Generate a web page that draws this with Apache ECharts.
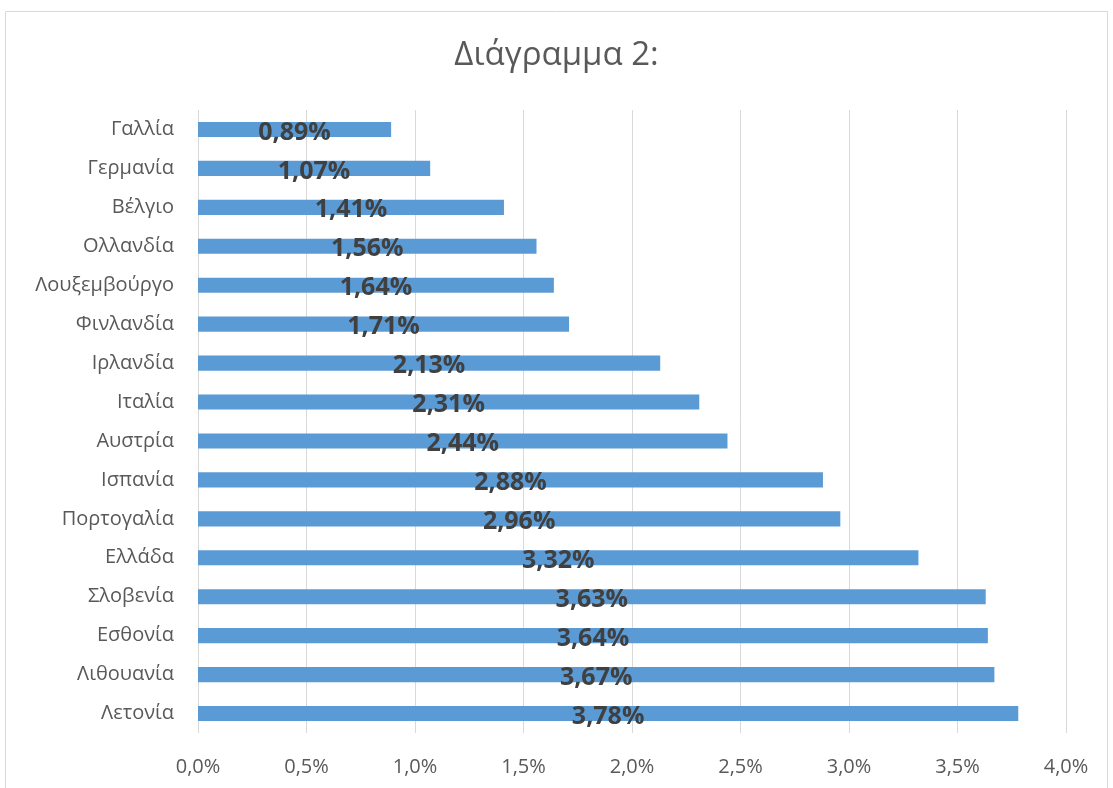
<!DOCTYPE html>
<html><head><meta charset="utf-8">
<script src="https://cdn.jsdelivr.net/npm/echarts@6/dist/echarts.min.js"></script>
<style>html,body{margin:0;padding:0;background:#fff}#c{width:1113px;height:788px}</style>
</head><body><div id="c"></div>
<script>
const titleText = 'Διάγραμμα 2:';
const categories = ['Γαλλία','Γερμανία','Βέλγιο','Ολλανδία','Λουξεμβούργο','Φινλανδία','Ιρλανδία','Ιταλία','Αυστρία','Ισπανία','Πορτογαλία','Ελλάδα','Σλοβενία','Εσθονία','Λιθουανία','Λετονία'];
const values = [0.89,1.07,1.41,1.56,1.64,1.71,2.13,2.31,2.44,2.88,2.96,3.32,3.63,3.64,3.67,3.78];
const fmt = v => v.toFixed(2).replace('.', ',') + '%';
const chart = echarts.init(document.getElementById('c'));
chart.setOption({
  animation: false,
  graphic: [{type:'rect', shape:{x:5.5,y:11.5,width:1102,height:800}, style:{fill:'none', stroke:'#d9d9d9', lineWidth:1}}],
  title: {text: titleText, left: 'center', top: 34, textStyle: {fontFamily: 'Open Sans', fontSize: 33, fontWeight: 'normal', color: '#595959'}},
  grid: {left: 198, right: 47, top: 110, bottom: 55},
  xAxis: {type: 'value', min: 0, max: 4, interval: 0.5,
    axisLine: {show: false}, axisTick: {show: false},
    splitLine: {lineStyle: {color: '#d9d9d9', width: 1}},
    axisLabel: {formatter: v => v.toFixed(1).replace('.', ',') + '%', fontFamily: 'Open Sans', fontSize: 20, color: '#595959', margin: 24}},
  yAxis: {type: 'category', data: categories, inverse: true,
    axisLine: {show: false}, axisTick: {show: false},
    axisLabel: {fontFamily: 'Open Sans', fontSize: 20, color: '#595959', margin: 24}},
  series: [{type: 'bar', data: values, barCategoryGap: '61%',
    itemStyle: {color: '#5b9bd5'},
    label: {show: true, position: 'inside', offset: [0, 3], formatter: p => fmt(p.value),
      fontFamily: 'Open Sans', fontSize: 25, fontWeight: 'bold', color: '#404040'}}]
});
</script></body></html>
